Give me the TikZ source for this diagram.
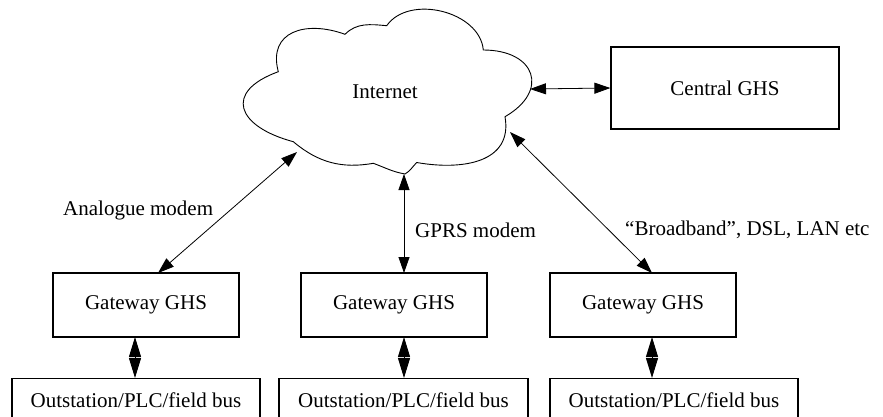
\documentclass[tikz,border=0pt]{standalone}
\usepackage{fontspec}
\setmainfont{Liberation Serif}
\usetikzlibrary{arrows.meta}
\begin{document}
\begin{tikzpicture}[x=1pt,y=1pt,
  txt/.style={font=\fontsize{21}{25}\selectfont},
  box/.style={draw, line width=1.2pt, inner sep=0pt, txt},
  lbl/.style={inner sep=0pt, txt},
  tip/.style={Triangle[length=16pt,width=11pt]},
  dtip/.style={Triangle[length=20pt,width=12pt]},
  link/.style={line width=0.8pt, {Triangle[length=16pt,width=11pt]}-{Triangle[length=16pt,width=11pt]}},
  dlink/.style={line width=1pt, {Triangle[length=20pt,width=12pt]}-{Triangle[length=20pt,width=12pt]}},
  cloudline/.style={line width=0.9pt}]
\useasboundingbox (0,0) rectangle (883,416);
\clip (0,0) rectangle (883,416);

% cloud
\draw[cloudline] (278.3,344.3)
  to[out=105,in=160,looseness=1.4] (345,381.7)
  to[out=45,in=175] (386.7,390.3)
  to[out=55,in=95] (483.3,366)
  to[out=0,in=30,looseness=1.9] (505,299.3)
  to[out=-80,in=-10,looseness=1.2] (416.7,253.5)
  to[out=-135,in=30] (405,242)
  to[out=170,in=-20] (373.3,252.7)
  to[out=-170,in=-40] (293.3,274.3)
  to[out=165,in=200,looseness=2.1] cycle;
\node[lbl] (internet) at (385,324) {Internet};

\coordinate (cA) at (297,264);
\coordinate (cB) at (404,242);
\coordinate (cC) at (510,284);
\coordinate (cD) at (530,327);

% boxes
\node[box, minimum width=228pt, minimum height=82pt] (central) at (725,328) {Central GHS};
\node[box, minimum width=186pt, minimum height=64pt] (g1) at (146,111) {Gateway GHS};
\node[box, minimum width=186pt, minimum height=64pt] (g2) at (394,111) {Gateway GHS};
\node[box, minimum width=186pt, minimum height=64pt] (g3) at (643,111) {Gateway GHS};

\node[draw, line width=1.2pt, minimum width=248pt, minimum height=60pt, anchor=north] (o1) at (136,38) {};
\node[draw, line width=1.2pt, minimum width=249pt, minimum height=60pt, anchor=north] (o2) at (403.5,38) {};
\node[draw, line width=1.2pt, minimum width=248pt, minimum height=60pt, anchor=north] (o3) at (674,38) {};
\node[lbl] (o1t) at (136,16) {Outstation/PLC/field bus};
\node[lbl] (o2t) at (403.5,16) {Outstation/PLC/field bus};
\node[lbl] (o3t) at (674,16) {Outstation/PLC/field bus};

% endpoints on boxes
\coordinate (g1n) at (158,143);
\coordinate (g2n) at (404,143);
\coordinate (g3n) at (652,143);
\coordinate (g1s) at (135,79);
\coordinate (g2s) at (404,79);
\coordinate (g3s) at (652,79);
\coordinate (o1n) at (135,38);
\coordinate (o2n) at (404,38);
\coordinate (o3n) at (652,38);

% connectors
\draw[link] (cD) -- (central.west);
\draw[link] (cA) -- (g1n);
\draw[link] (cB) -- (g2n);
\draw[link] (cC) -- (g3n);
\draw[dlink] (g1s) -- (o1n);
\draw[dlink] (g2s) -- (o2n);
\draw[dlink] (g3s) -- (o3n);

% labels
\node[lbl, anchor=west] (l1) at (63,206) {Analogue modem};
\node[lbl, anchor=west] (l2) at (415,186) {GPRS modem};
\node[lbl, anchor=west] (l3) at (625,186) {“Broadband”, DSL, LAN etc};
\end{tikzpicture}
\end{document}
